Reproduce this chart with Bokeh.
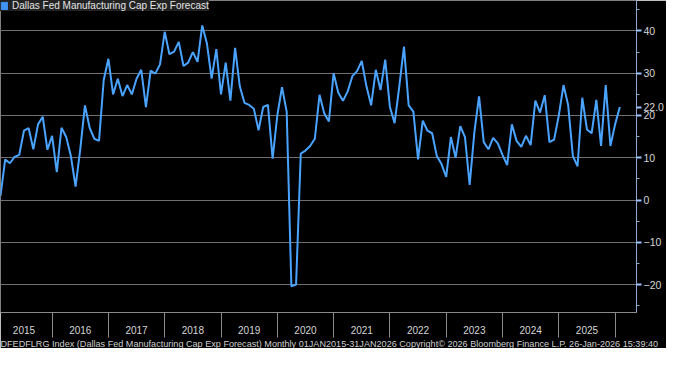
import pandas as pd
from bokeh.plotting import figure
from bokeh.models import Range1d, FixedTicker, Legend, LegendItem, Title
from bokeh.embed import file_html
from bokeh.resources import INLINE

# ---- data ----
months = pd.date_range("2015-01-01", "2026-01-01", freq="MS")
values = [
    1.0, 9.6, 8.7, 10.2, 10.7, 16.4, 17.0, 12.0, 17.9, 19.7, 11.9, 15.2,      # 2015
    6.6, 17.1, 14.9, 10.4, 3.2, 12.0, 22.4, 17.1, 14.5, 14.0, 28.4, 33.4,     # 2016
    25.0, 28.7, 24.6, 27.2, 25.0, 28.7, 30.8, 22.0, 30.6, 29.9, 32.1, 39.8,   # 2017
    34.5, 35.1, 37.4, 31.7, 32.5, 35.0, 32.7, 41.3, 37.0, 28.7, 35.7, 25.0,   # 2018
    32.5, 23.5, 36.0, 26.9, 23.0, 22.5, 21.6, 16.5, 22.0, 22.5, 9.8, 20.0,    # 2019
    26.7, 20.9, -20.4, -20.0, 11.0, 11.7, 12.8, 14.5, 24.9, 20.5, 18.6, 30.0, # 2020
    25.4, 23.5, 25.7, 29.3, 30.5, 32.9, 26.9, 22.4, 30.8, 26.0, 33.2, 22.0,   # 2021
    18.2, 26.9, 36.3, 22.4, 20.9, 9.6, 18.8, 16.4, 15.8, 10.4, 8.5, 5.5,      # 2022
    14.9, 10.0, 17.5, 14.9, 3.6, 16.0, 24.5, 13.7, 12.0, 14.7, 13.4, 10.7,    # 2023
    8.3, 17.9, 14.0, 12.6, 15.2, 13.0, 23.5, 20.7, 24.8, 13.7, 14.3, 20.0,    # 2024
    27.2, 22.4, 10.4, 8.0, 24.2, 16.7, 15.8, 23.7, 12.8, 27.2, 12.8, 17.9,    # 2025
    22.0,                                                                     # 2026
]
year_labels = [str(y) for y in range(2015, 2026)]
y_ticks = [-20, -10, 0, 10, 20, 30, 40]
y_minor = [-25, -15, -5, 5, 15, 25, 35, 45]
last_label = "22.0"
series_name = "Dallas Fed Manufacturing Cap Exp Forecast"
footer = ("DFEDFLRG Index (Dallas Fed Manufacturing Cap Exp Forecast) Monthly "
          "01JAN2015-31JAN2026 Copyright\u00a9 2026 Bloomberg Finance L.P. "
          "26-Jan-2026 15:39:40")

# month-end position in decimal years
x = [m.year + m.month / 12.0 for m in months]
year_mids = [int(y) + 0.5 for y in year_labels]
year_bounds = [int(y) for y in year_labels[1:]] + [2026]

LINE = "#4aa3ff"
GRID = "#707070"
FONT = "Liberation Sans"
FW = 636
FH = 312
X_END = 2026.38

p = figure(frame_width=FW, frame_height=FH, output_backend="svg", toolbar_location=None,
           x_range=Range1d(2015 + 1 / 12.0, X_END), y_range=Range1d(-26.6, 47.2),
           y_axis_location="right",
           background_fill_color="black", border_fill_color="black",
           min_border_left=0, min_border_top=0, min_border_right=0, min_border_bottom=0)
p.outline_line_color = None

p.line(x, values, line_color=LINE, line_width=2)

# grid
p.xgrid.visible = False
p.ygrid.ticker = FixedTicker(ticks=y_ticks)
p.ygrid.grid_line_color = GRID
p.ygrid.grid_line_width = 1

# x axis: year labels centred, separators as minor ticks
xa = p.xaxis[0]
xa.ticker = FixedTicker(ticks=year_mids, minor_ticks=year_bounds)
xa.major_label_overrides = {m: lab for m, lab in zip(year_mids, year_labels)}
xa.major_tick_out = 0
xa.major_tick_in = 0
xa.minor_tick_out = 25
xa.minor_tick_in = 0
xa.minor_tick_line_color = "#8a8a8a"
xa.axis_line_color = "#8a8a8a"
xa.major_label_text_color = "#d6d6d6"
xa.major_label_text_font = FONT
xa.major_label_text_font_size = "10px"
xa.major_label_standoff = -12

# y axis on right; the last value gets its own tick labelled "22.0"
ya = p.yaxis[0]
ya.ticker = FixedTicker(ticks=sorted(y_ticks + [values[-1]]), minor_ticks=y_minor)
ya.major_label_overrides = {values[-1]: last_label}
ya.axis_line_color = "#8fa8cc"
ya.major_tick_line_color = "#9cc4ff"
ya.major_tick_line_width = 2
ya.major_tick_out = 5
ya.major_tick_in = 0
ya.minor_tick_line_color = "#8fa8cc"
ya.minor_tick_out = 3
ya.minor_tick_in = 0
ya.major_label_text_color = "#d6d6d6"
ya.major_label_text_font = FONT
ya.major_label_text_font_size = "10.5px"
ya.major_label_standoff = 2

# legend (swatch renderer sits outside the visible range)
swatch = p.vbar(x=[2000.0], top=[0.0], width=0.1, fill_color="#3f93f5", line_color="#3f93f5")
legend = Legend(items=[LegendItem(label=series_name, renderers=[swatch])],
                location="top_left", margin=0, padding=6, spacing=0,
                glyph_width=8, glyph_height=9, label_standoff=4,
                label_text_font=FONT, label_text_font_size="10px",
                label_text_color="#e6e6e6", label_height=11,
                background_fill_color="#222222", background_fill_alpha=1.0,
                border_line_color=None)
p.add_layout(legend)

# footer
p.add_layout(Title(text=footer, text_font=FONT, text_font_size="9.1px",
                   text_font_style="normal", text_color="#cfcfcf", align="left",
                   standoff=0, offset=0), "below")

html = file_html(p, INLINE)
open("out.html", "w").write(html)
